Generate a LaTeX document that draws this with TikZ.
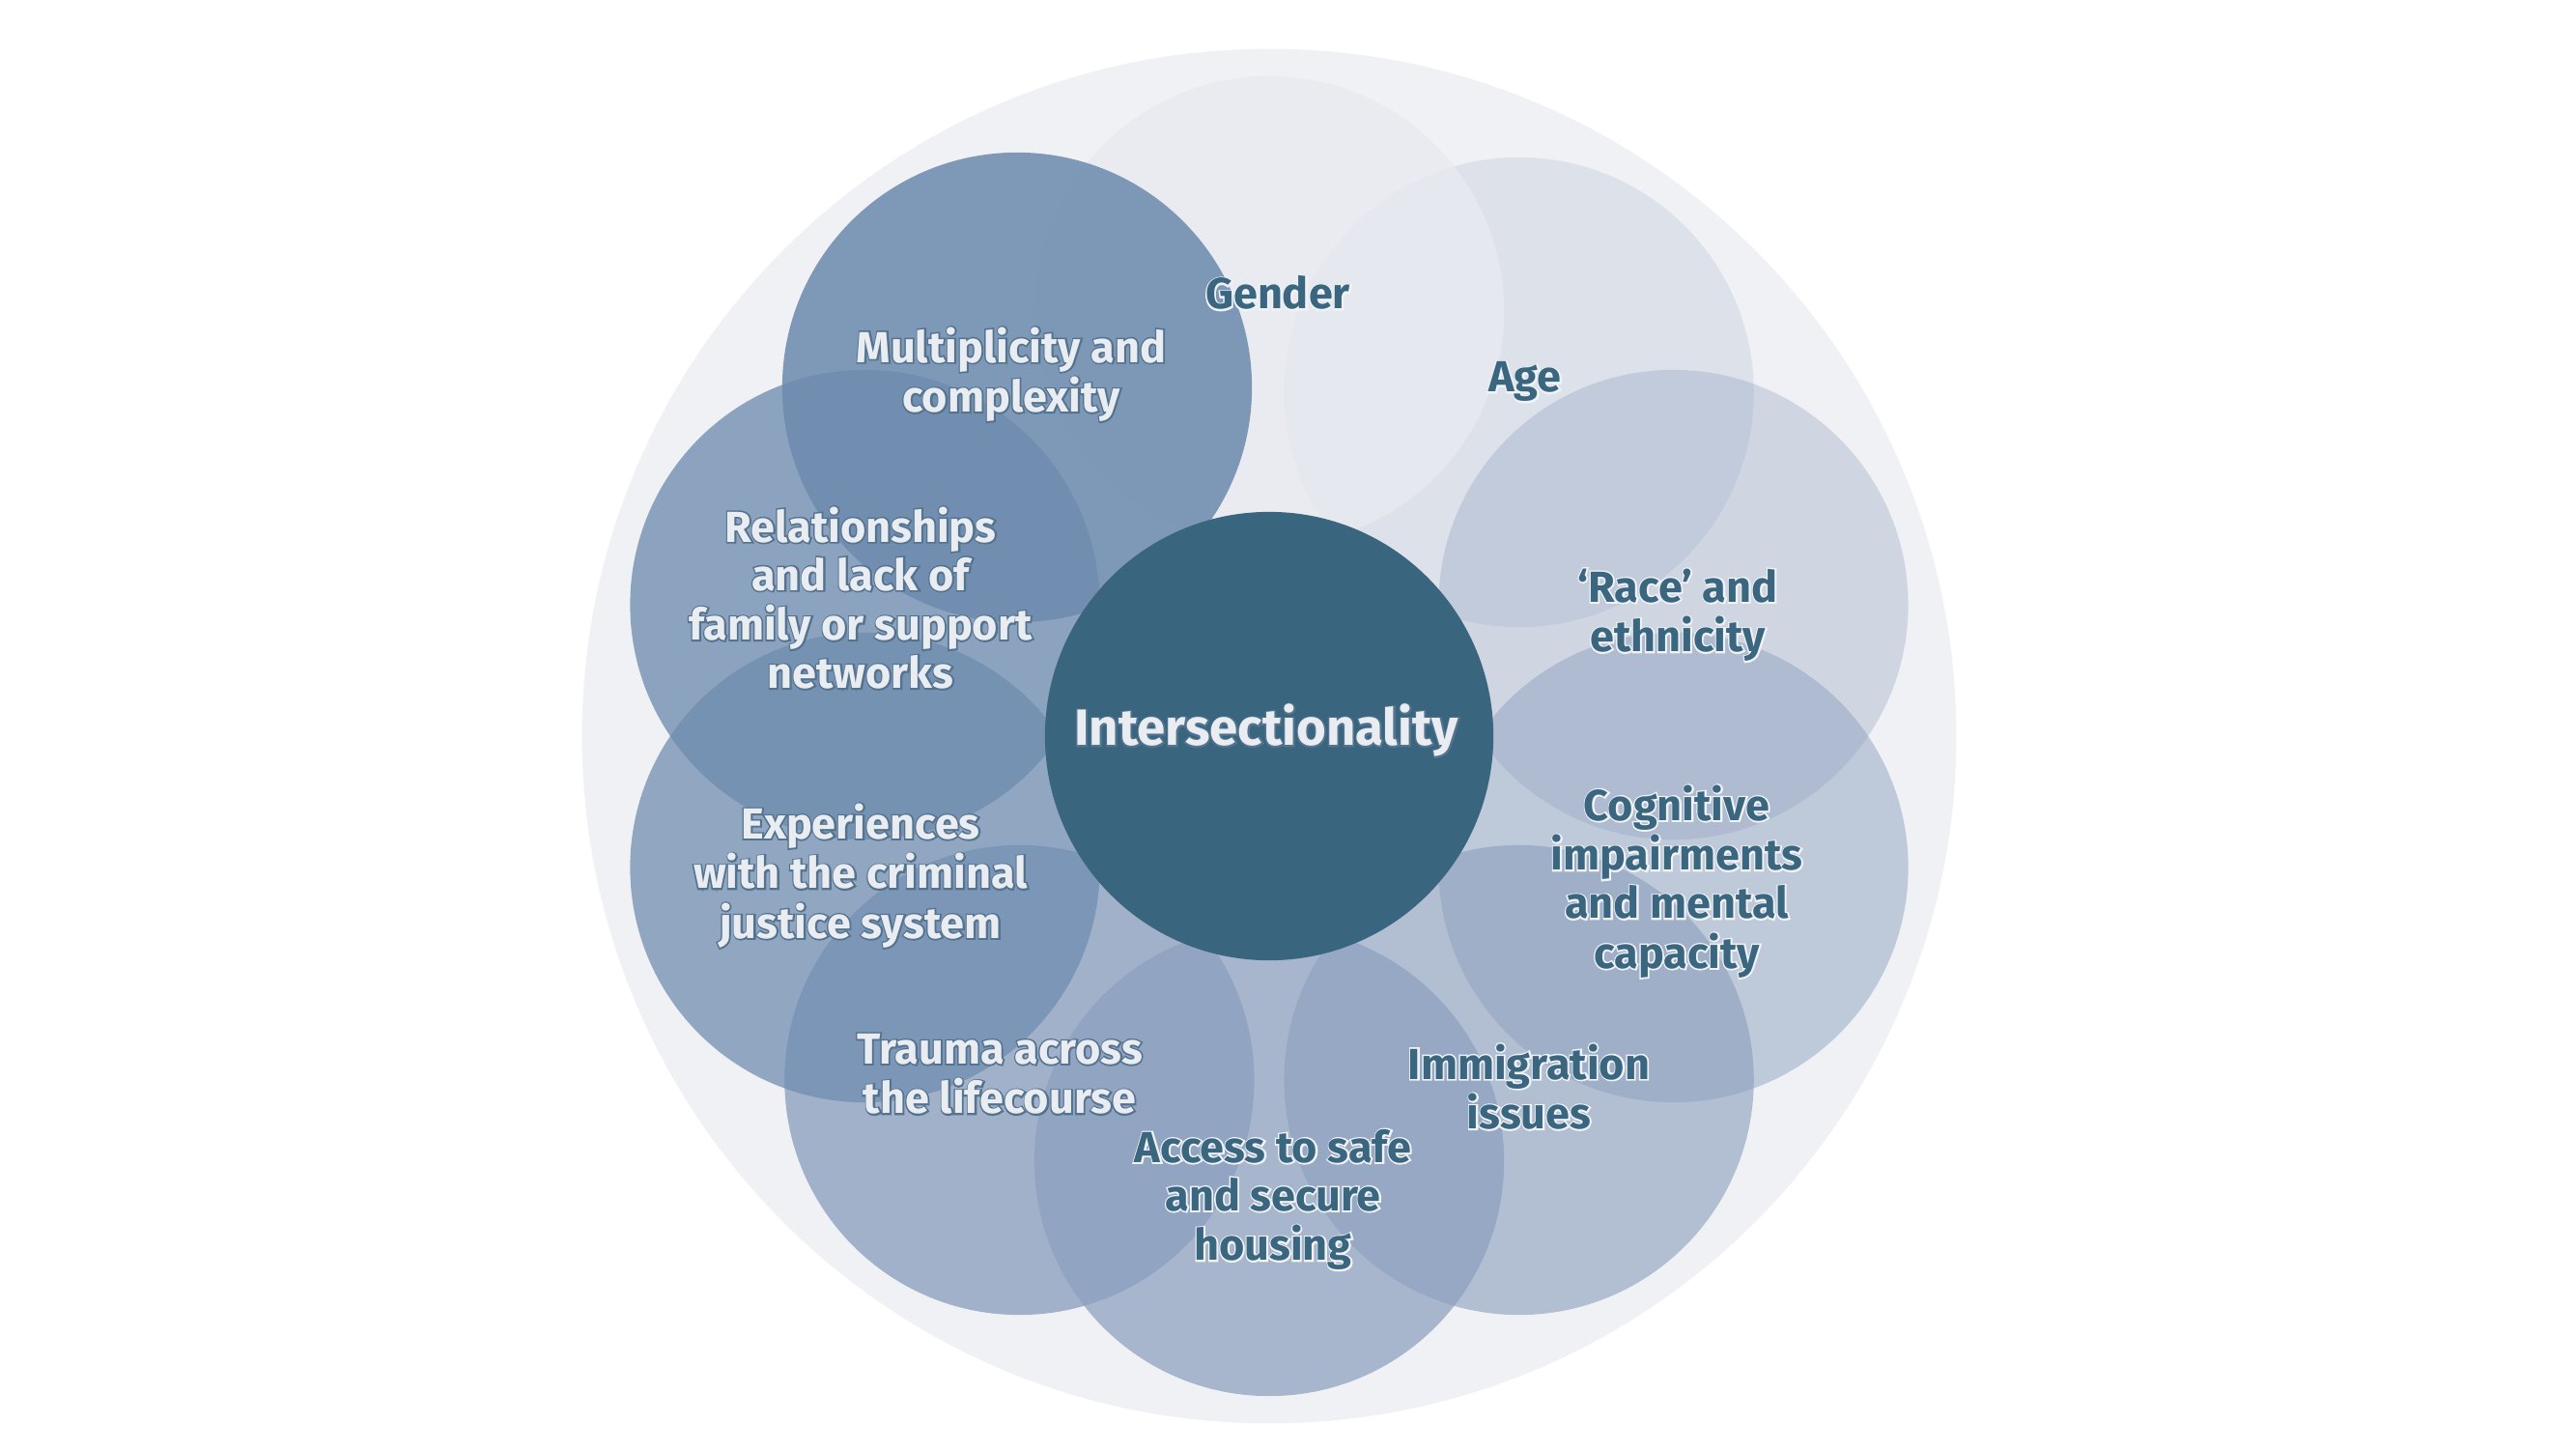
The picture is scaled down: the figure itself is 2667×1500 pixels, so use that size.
\documentclass[tikz,border=0pt]{standalone}
\usepackage{fontspec}
\setmainfont{Fira Sans}
\definecolor{bgc}{HTML}{F0F1F5}
\definecolor{darkpetal}{HTML}{6E8CAF}
\definecolor{midpetal}{HTML}{8CA0BE}
\definecolor{gendc}{HTML}{E8EAF0}
\definecolor{core}{HTML}{39667E}
\definecolor{lighttext}{HTML}{E9ECF1}
\definecolor{darktext}{HTML}{3A6680}
\definecolor{lightline}{HTML}{54738F}
\definecolor{darkline}{HTML}{F0F2F6}
\newsavebox\lblbox
% text drawn twice: first with a wide stroke in the outline colour, then filled on top
\newcommand\outlinedtext[2]{\setbox\lblbox\hbox{\begin{tabular}{@{}c@{}}#2\end{tabular}}%
  {\color{#1}\special{pdf:literal q 2 Tr 0.9 w}\rlap{\copy\lblbox}\special{pdf:literal Q}}\box\lblbox}
\newcommand\lightoutl[1]{\outlinedtext{lightline}{#1}}
\newcommand\darkoutl[1]{\outlinedtext{darkline}{#1}}
\begin{document}
\begin{tikzpicture}[x=0.01cm,y=-0.01cm,
  petal/.style={circle,inner sep=0pt,minimum size=4.86cm},
  lt/.style={text=lighttext,font=\bfseries\fontsize{12.8}{14.2}\selectfont,align=center,inner sep=0pt},
  dt/.style={lt,text=darktext}]
\fill[white] (0,0) rectangle (2667,1500);
\useasboundingbox (0,0) rectangle (2667,1500);
\node[circle,inner sep=0pt,minimum size=14.22cm,fill=bgc] (bg) at (1314,762) {};
% petals
\node[petal,fill=midpetal,fill opacity=0.19] (cage) at (1572.6,406) {};
\node[petal,fill=midpetal,fill opacity=0.33] (crace) at (1732.5,626) {};
\node[petal,fill=midpetal,fill opacity=0.49] (ccog) at (1732.5,898) {};
\node[petal,fill=midpetal,fill opacity=0.62] (cimm) at (1572.6,1118) {};
\node[petal,fill=midpetal,fill opacity=0.72] (chous) at (1314,1202) {};
\node[petal,fill=midpetal,fill opacity=0.79] (ctrau) at (1055.4,1118) {};
\node[petal,fill=darkpetal,fill opacity=0.73] (cexp) at (895.5,898) {};
\node[petal,fill=darkpetal,fill opacity=0.77] (crel) at (895.5,626) {};
\node[petal,fill=gendc,fill opacity=0.85] (cgen) at (1314,322) {};
\node[petal,fill=darkpetal,fill opacity=0.87] (cmult) at (1053,401) {};
% core
\node[circle,inner sep=0pt,minimum size=4.64cm,fill=core] (core) at (1314,762) {};
% labels
\node[lt,font=\bfseries\fontsize{15}{18}\selectfont] (tint) at (1311,759) {\lightoutl{Intersectionality}};
\node[dt] (tgen) at (1323,310) {\darkoutl{Gender}};
\node[dt] (tage) at (1579,396) {\darkoutl{Age}};
\node[dt] (trace) at (1737,639) {\darkoutl{‘Race’ and\\ethnicity}};
\node[dt] (tcog) at (1736,915) {\darkoutl{Cognitive\\impairments\\and mental\\capacity}};
\node[dt] (timm) at (1583,1132) {\darkoutl{Immigration\\issues}};
\node[dt] (thous) at (1318,1244) {\darkoutl{Access to safe\\and secure\\housing}};
\node[lt] (ttrau) at (1035,1117) {\lightoutl{Trauma across\\the lifecourse}};
\node[lt] (texp) at (891,909) {\lightoutl{Experiences\\with the criminal\\justice system}};
\node[lt] (trel) at (891,626) {\lightoutl{Relationships\\and lack of\\family or support\\networks}};
\node[lt] (tmult) at (1047,390) {\lightoutl{Multiplicity and\\complexity}};
\end{tikzpicture}
\end{document}
